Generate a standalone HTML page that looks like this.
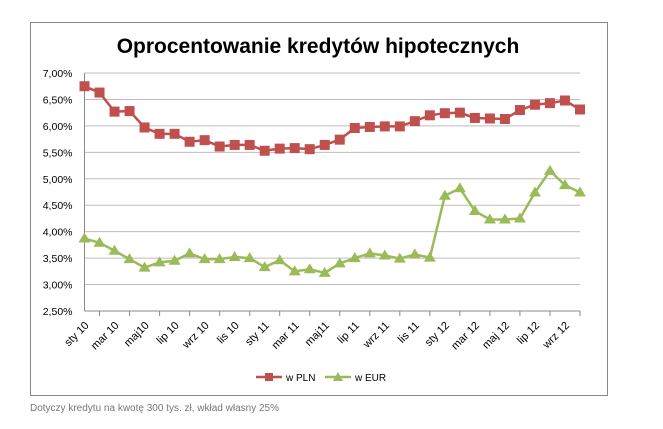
<!DOCTYPE html>
<html><head><meta charset="utf-8"><style>
body{margin:0;background:#fff;font-family:"Liberation Sans",sans-serif;}
</style></head><body>
<svg width="663" height="424" viewBox="0 0 663 424" xmlns="http://www.w3.org/2000/svg">
<rect x="30.5" y="22.5" width="577" height="373" fill="#fff" stroke="#8a8a8a"/>
<text x="318" y="53" text-anchor="middle" font-size="21" font-weight="bold" fill="#000">Oprocentowanie kredytów hipotecznych</text>
<g id="grid"></g><g id="axes"></g><g id="series"></g>
<g>
<line x1="256" y1="377" x2="282" y2="377" stroke="#c0504d" stroke-width="2.5"/>
<rect x="265" y="373" width="8" height="8" fill="#c0504d"/>
<text x="286" y="381" font-size="10" fill="#000">w PLN</text>
<line x1="325" y1="377" x2="351" y2="377" stroke="#9bbb59" stroke-width="2.5"/>
<polygon points="338,372 343,381 333,381" fill="#9bbb59"/>
<text x="355" y="381" font-size="10" fill="#000">w EUR</text>
</g>
<text x="30" y="411" font-size="10" fill="#777">Dotyczy kredytu na kwotę 300 tys. zł, wkład własny 25%</text>
</svg>
<script>
const months=["sty 10","lut 10","mar 10","kwi 10","maj10","cze 10","lip 10","sie 10","wrz 10","paź 10","lis 10","gru 10","sty 11","lut 11","mar 11","kwi 11","maj11","cze 11","lip 11","sie 11","wrz 11","paź 11","lis 11","gru 11","sty 12","lut 12","mar 12","kwi 12","maj 12","cze 12","lip 12","sie 12","wrz 12","paź 12"];
const pln=[6.75,6.63,6.27,6.28,5.97,5.85,5.85,5.70,5.73,5.61,5.64,5.64,5.53,5.57,5.58,5.56,5.64,5.74,5.96,5.98,5.99,5.99,6.09,6.20,6.24,6.25,6.15,6.14,6.13,6.30,6.40,6.43,6.48,6.31];
const eur=[3.87,3.79,3.64,3.48,3.32,3.42,3.45,3.59,3.48,3.48,3.52,3.50,3.33,3.46,3.25,3.29,3.22,3.40,3.50,3.59,3.55,3.49,3.57,3.51,4.68,4.82,4.39,4.23,4.23,4.25,4.74,5.15,4.88,4.74];
const yTicks=[2.5,3,3.5,4,4.5,5,5.5,6,6.5,7];
const NS="http://www.w3.org/2000/svg";
const X0=84.5,X1=580,Y0=311,Y1=73;
const x=i=>X0+i*(X1-X0)/(months.length-1);
const y=v=>Y0-(v-2.5)/(7-2.5)*(Y0-Y1);
function mk(t,a,p){const e=document.createElementNS(NS,t);for(const k in a)e.setAttribute(k,a[k]);p.appendChild(e);return e;}
const grid=document.getElementById('grid'),axes=document.getElementById('axes'),ser=document.getElementById('series');
yTicks.forEach(v=>{
 const l=mk('line',{x1:X0,x2:X1,y1:y(v),y2:y(v),stroke:v===2.5?'#888':'#bdbdbd','stroke-width':1},grid);
 
 
 const t=mk('text',{x:X0-12,y:y(v)+4,'text-anchor':'end','font-size':10.5,fill:'#000'},axes);
 t.textContent=v.toFixed(2).replace('.',',')+'%';
 
 
});
mk('line',{x1:X0,x2:X0,y1:Y1,y2:Y0,stroke:'#888'},axes);
months.forEach((m,i)=>{
 if(i%2===1){mk('line',{x1:x(i),x2:x(i),y1:Y0,y2:Y0+5,stroke:'#888'},axes);}
 if(i%2===0){
  const t=mk('text',{x:x(i)+5,y:Y0+15,'text-anchor':'end','font-size':11,fill:'#000',transform:`rotate(-45 ${x(i)+5} ${Y0+15})`},axes);
  t.textContent=m;
  
  
 }
});
function line(vals,col,name){
 const p=mk('polyline',{points:vals.map((v,i)=>x(i)+','+y(v)).join(' '),fill:'none',stroke:col,'stroke-width':2.5},ser);
 
 
}
line(pln,'#c0504d','pln');line(eur,'#9bbb59','eur');
pln.forEach((v,i)=>{const r=mk('rect',{x:x(i)-5,y:y(v)-5,width:10,height:10,fill:'#c0504d'},ser);
 
 });
eur.forEach((v,i)=>{const cx=x(i),cy=y(v);const p=mk('polygon',{points:`${cx},${cy-6} ${cx+6},${cy+4} ${cx-6},${cy+4}`,fill:'#9bbb59'},ser);
 
 });
</script>
</body></html>
